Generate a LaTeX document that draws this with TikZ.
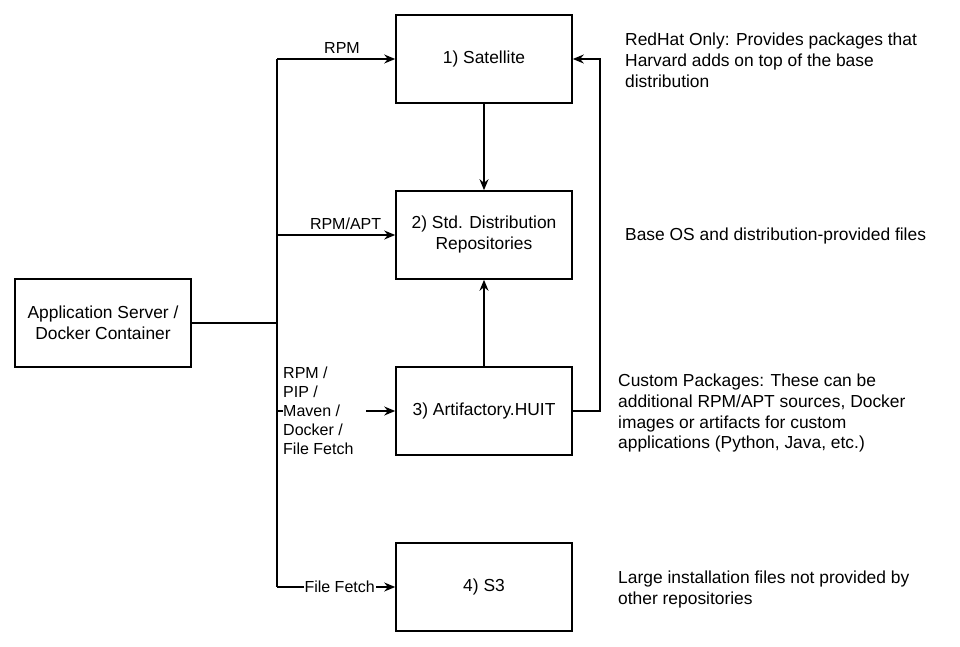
\documentclass[tikz,border=0pt]{standalone}
\usepackage{fontspec}
\setmainfont{Liberation Sans}
\usetikzlibrary{arrows.meta,positioning}
\begin{document}
\begin{tikzpicture}[x=1pt,y=-1pt,
  box/.style={draw,line width=1.6pt,minimum width=176pt,minimum height=88pt,align=center,inner sep=0pt,font=\fontsize{17.4}{21}\selectfont},
  conn/.style={line width=1.4pt},
  arr/.style={conn,-{Stealth[length=11pt,width=9pt]}},
  lbl/.style={font=\fontsize{16}{19}\selectfont,inner sep=1pt},
  note/.style={font=\fontsize{17.4}{20.6}\selectfont,align=left,anchor=north west,inner sep=0pt}]
\useasboundingbox (0,0) rectangle (960,647);
\node[box] (app) at (103,323) {Application Server /\\Docker Container};
\node[box] (sat) at (484,59) {1) Satellite};
\node[box] (std) at (484,235) {2) Std. Distribution\\Repositories};
\node[box] (art) at (484,411) {3) Artifactory.HUIT};
\node[box] (s3) at (484,587) {4) S3};
\coordinate (j) at (277,323);
\coordinate (jt) at (277,59);
\coordinate (jb) at (277,587);
\coordinate (jstd) at (277,235);
\coordinate (jart) at (277,411);
\coordinate (rt) at (600,59);
\coordinate (rb) at (600,411);
\draw[conn] (app.east) -- (j);
\draw[conn] (jt) -- (jb);
\draw[arr] (jt) -- (sat.west) node[lbl,pos=0.55,above=4pt] {RPM};
\draw[arr] (jstd) -- (std.west) node[lbl,pos=0.58,above=4pt] {RPM/APT};
\node[lbl,align=left,anchor=west] (artl) at (282,411) {RPM /\\PIP /\\Maven /\\Docker /\\File Fetch};
\draw[conn] (jart) -- (283,411);
\draw[arr] (366,411) -- (art.west);
\draw[arr] (jb) -- (s3.west) node[lbl,pos=0.53,fill=white] {File Fetch};
\draw[arr] (sat.south) -- (std.north);
\draw[arr] (art.north) -- (std.south);
\draw[arr] (art.east) -- (rb) -- (rt) -- (sat.east);
\node[note] (n1) at (625,33) {RedHat Only: Provides packages that\\Harvard adds on top of the base\\distribution};
\node[note] (n2) at (625,228) {Base OS and distribution-provided files};
\node[note] (n3) at (618,374) {Custom Packages: These can be\\additional RPM/APT sources, Docker\\images or artifacts for custom\\applications (Python, Java, etc.)};
\node[note] (n4) at (618,571) {Large installation files not provided by\\other repositories};
\end{tikzpicture}
\end{document}
